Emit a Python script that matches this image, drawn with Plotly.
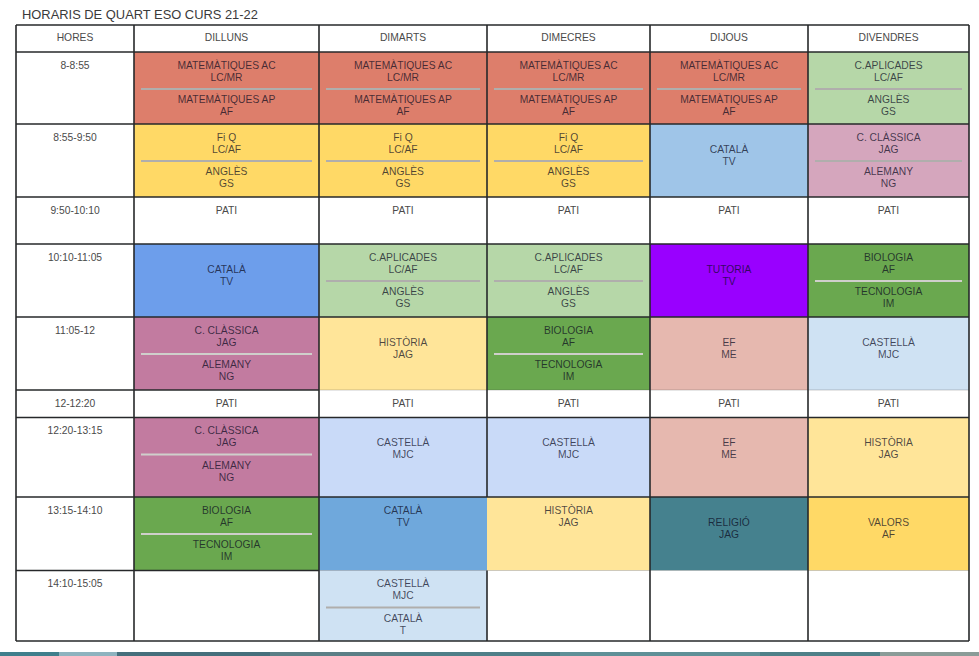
import plotly.graph_objects as go

DAYS = ["DILLUNS", "DIMARTS", "DIMECRES", "DIJOUS", "DIVENDRES"]
HOURS = ["8-8:55", "8:55-9:50", "9:50-10:10", "10:10-11:05", "11:05-12",
         "12-12:20", "12:20-13:15", "13:15-14:10", "14:10-15:05"]

MATES = ["MATEMÀTIQUES AC", "LC/MR", "MATEMÀTIQUES AP", "AF"]
APLIC = ["C.APLICADES", "LC/AF", "ANGLÈS", "GS"]
FIQ = ["Fi Q", "LC/AF", "ANGLÈS", "GS"]
CLASS = ["C. CLÀSSICA", "JAG", "ALEMANY", "NG"]
BIO = ["BIOLOGIA", "AF", "TECNOLOGIA", "IM"]
CAT = ["CATALÀ", "TV"]
CAST = ["CASTELLÀ", "MJC"]
HIST = ["HISTÒRIA", "JAG"]
EF = ["EF", "ME"]
PATI = ["PATI"]
BUIT = []

# one list per day, one entry per hour
dilluns = [MATES, FIQ, PATI, CAT, CLASS, PATI, CLASS, BIO, BUIT]
dimarts = [MATES, FIQ, PATI, APLIC, HIST, PATI, CAST, CAT, ["CASTELLÀ", "MJC", "CATALÀ", "T"]]
dimecres = [MATES, FIQ, PATI, APLIC, BIO, PATI, CAST, HIST, BUIT]
dijous = [MATES, CAT, PATI, ["TUTORIA", "TV"], EF, PATI, EF, ["RELIGIÓ", "JAG"], BUIT]
divendres = [APLIC, CLASS, PATI, BIO, CAST, PATI, HIST, ["VALORS", "AF"], BUIT]
SCHEDULE = [dilluns, dimarts, dimecres, dijous, divendres]

colors_dilluns = ["#dd7e6b", "#ffd966", "#ffffff", "#6d9eeb", "#c27ba0", "#ffffff", "#c27ba0", "#6aa84f", "#ffffff"]
colors_dimarts = ["#dd7e6b", "#ffd966", "#ffffff", "#b6d7a8", "#ffe599", "#ffffff", "#c9daf8", "#6fa8dc", "#cfe2f3"]
colors_dimecres = ["#dd7e6b", "#ffd966", "#ffffff", "#b6d7a8", "#6aa84f", "#ffffff", "#c9daf8", "#ffe599", "#ffffff"]
colors_dijous = ["#dd7e6b", "#9fc5e8", "#ffffff", "#9900ff", "#e6b8af", "#ffffff", "#e6b8af", "#45818e", "#ffffff"]
colors_divendres = ["#b6d7a8", "#d5a6bd", "#ffffff", "#6aa84f", "#cfe2f3", "#ffffff", "#ffe599", "#ffd966", "#ffffff"]
COLORS = [colors_dilluns, colors_dimarts, colors_dimecres, colors_dijous, colors_divendres]

# table geometry, in picture pixels
X_EDGES = [16, 134, 319, 487, 650, 808, 969]
Y_EDGES = [52, 124, 197, 244, 317, 390, 417.5, 497, 570.5, 641]
Y_TOP = 25
DARK_CELLS = ["#c27ba0", "#6aa84f"]
TOP_ALIGNED = [(1, 7), (2, 7)]  # day, hour

FONT = "Liberation Sans"

bar_x, bar_y, bar_base, bar_w, bar_c = [], [], [], [], []
txt_x, txt_y, txt_s = [], [], []
txt_dark_x, txt_dark_y, txt_dark_s = [], [], []
sep_x, sep_y, sep_light_x, sep_light_y = [], [], [], []

for col, day in enumerate(SCHEDULE):
    x0, x1 = X_EDGES[col + 1], X_EDGES[col + 2]
    mid = (x0 + x1) / 2
    for row, lines in enumerate(day):
        top, bottom = Y_EDGES[row], Y_EDGES[row + 1]
        bar_x.append(mid)
        bar_w.append(x1 - x0)
        bar_base.append(top)
        bar_y.append(bottom - top)
        bar_c.append(COLORS[col][row])

        if len(lines) == 4:
            offsets = [14, 26, 48.5, 60.5]
            if COLORS[col][row] in DARK_CELLS:
                sep_light_x += [x0 + 7, x1 - 7, None]
                sep_light_y += [top + 37, top + 37, None]
            else:
                sep_x += [x0 + 7, x1 - 7, None]
                sep_y += [top + 37, top + 37, None]
        elif len(lines) == 2:
            offsets = [14, 26] if (col, row) in TOP_ALIGNED else [26, 38]
        else:
            offsets = [14]

        for line, off in zip(lines, offsets):
            if COLORS[col][row] == "#ffffff":
                txt_x.append(mid)
                txt_y.append(top + off)
                txt_s.append(line)
            else:
                txt_dark_x.append(mid)
                txt_dark_y.append(top + off)
                txt_dark_s.append(line)

# hours column and header row
for row, h in enumerate(HOURS):
    txt_x.append((X_EDGES[0] + X_EDGES[1]) / 2)
    txt_y.append(Y_EDGES[row] + 14)
    txt_s.append(h)
for col, d in enumerate(["HORES"] + DAYS):
    txt_x.append((X_EDGES[col] + X_EDGES[col + 1]) / 2)
    txt_y.append(38.5)
    txt_s.append(d)

# grid lines, some stretches of the scan have lost their dark rule
grid_x, grid_y, faint_x, faint_y = [], [], [], []
for y in [Y_TOP] + Y_EDGES:
    if y in (390, 570.5):
        grid_x += [X_EDGES[0], X_EDGES[2], None]
        grid_y += [y, y, None]
        faint_x += [X_EDGES[2], X_EDGES[6], None]
        faint_y += [y, y, None]
    else:
        grid_x += [X_EDGES[0], X_EDGES[6], None]
        grid_y += [y, y, None]
for x in X_EDGES:
    if x == 487:
        grid_x += [x, x, None, x, x, None]
        grid_y += [Y_TOP, 497, None, 570.5, 641, None]
    else:
        grid_x += [x, x, None]
        grid_y += [Y_TOP, 641, None]

fig = go.Figure()
fig.add_trace(go.Bar(x=bar_x, y=bar_y, base=bar_base, width=bar_w,
                     marker=dict(color=bar_c, line=dict(width=0)), hoverinfo="skip"))
fig.add_trace(go.Scatter(x=sep_x, y=sep_y, mode="lines", line=dict(color="#b0aeac", width=2), hoverinfo="skip"))
fig.add_trace(go.Scatter(x=sep_light_x, y=sep_light_y, mode="lines", line=dict(color="#cfcfcb", width=2), hoverinfo="skip"))
fig.add_trace(go.Scatter(x=faint_x, y=faint_y, mode="lines", line=dict(color="rgba(60,60,60,0.25)", width=1), hoverinfo="skip"))
fig.add_trace(go.Scatter(x=grid_x, y=grid_y, mode="lines", line=dict(color="#26282a", width=1.6), hoverinfo="skip"))
fig.add_trace(go.Scatter(x=txt_x, y=txt_y, mode="text", text=txt_s, textposition="middle center",
                         textfont=dict(family=FONT, size=10.3, color="#4a4a4a"), hoverinfo="skip"))
fig.add_trace(go.Scatter(x=txt_dark_x, y=txt_dark_y, mode="text", text=txt_dark_s, textposition="middle center",
                         textfont=dict(family=FONT, size=10.3, color="rgba(10,10,30,0.72)"), hoverinfo="skip"))

# photo strip at the very bottom of the screenshot
strip = [(0, 59, "#3f7f8c"), (59, 117, "#8eb3bf"), (117, 270, "#456f7c"), (270, 400, "#5b7f86"),
         (400, 560, "#4f7f88"), (560, 760, "#5f9097"), (760, 880, "#4f8088"), (880, 979, "#8a9c98")]
shapes = [dict(type="rect", xref="x", yref="y", x0=a, x1=b, y0=652, y1=656,
               fillcolor=c, line=dict(width=0), layer="below") for a, b, c in strip]

fig.update_layout(
    width=979, height=656, autosize=False,
    margin=dict(l=0, r=0, t=0, b=0),
    paper_bgcolor="white", plot_bgcolor="white",
    showlegend=False, barmode="overlay",
    shapes=shapes,
    title=dict(text="HORARIS DE QUART ESO CURS 21-22", x=22 / 979, xanchor="left", xref="paper",
               y=1 - 14.5 / 656, yanchor="middle", yref="paper",
               font=dict(family=FONT, size=12.9, color="#3a3a3a")),
    xaxis=dict(range=[0, 979], visible=False, fixedrange=True),
    yaxis=dict(range=[656, 0], visible=False, fixedrange=True),
)

fig.write_html("out.html", config=dict(displayModeBar=False),
               post_script="document.body.style.margin='0';")
